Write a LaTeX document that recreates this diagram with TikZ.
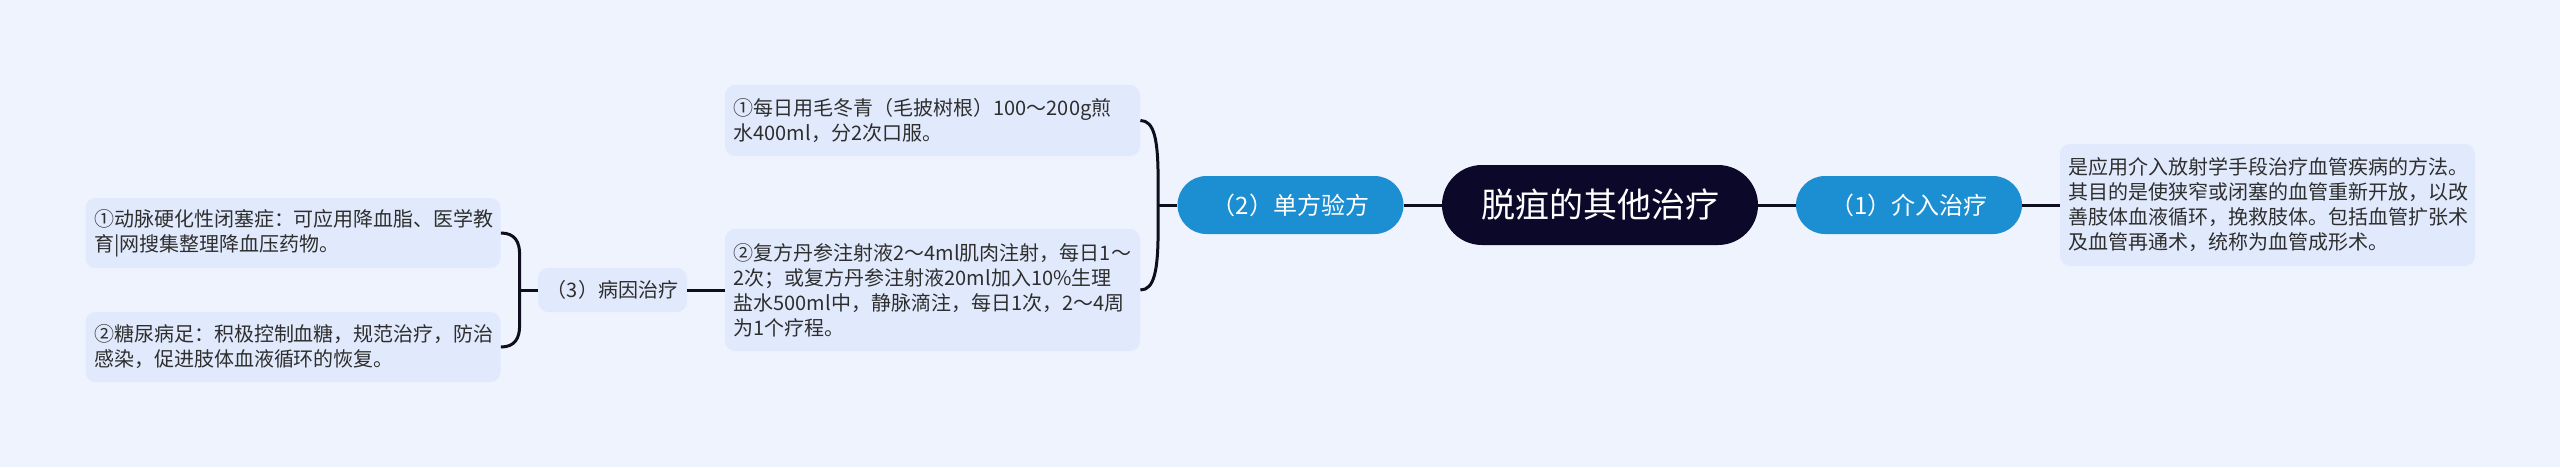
\documentclass[tikz,border=0pt]{standalone}
\usepackage{fontspec}
\setmainfont{Noto Sans CJK SC}
\usetikzlibrary{calc}
\definecolor{canvas}{HTML}{EEF3FE}
\definecolor{leafbg}{HTML}{E1EAFC}
\definecolor{rootbg}{HTML}{0B0829}
\definecolor{branchbg}{HTML}{1B8FD1}
\definecolor{wire}{HTML}{0E0E1E}
\definecolor{ink}{HTML}{2E2E2E}

\begin{document}
\begin{tikzpicture}[x=0.5pt,y=-0.5pt,
  leaf/.style={fill=leafbg,rounded corners=5pt,text=ink,align=left,
    text width=199pt,inner xsep=4.25pt,inner ysep=4pt,
    font=\fontsize{10pt}{12.5pt}\selectfont},
  branch/.style={fill=branchbg,rounded corners=14.5pt,text=white,
    minimum width=113pt,minimum height=29pt,inner sep=2pt,
    font=\fontsize{12pt}{14pt}\selectfont},
  link/.style={wire,line width=1.5pt}]
  % canvas
  \fill [canvas] (0,0) rectangle (2560,467);
  % root
  \node [fill=rootbg,text=white,rounded corners=20pt,
    minimum width=158pt,minimum height=40pt,inner sep=2pt,
    font=\fontsize{17pt}{20pt}\selectfont]
    at (1600,205) (root) {脱疽的其他治疗}
  ;
  % branches
  \node [branch] at (1909,205) (jieru) {（1）介入治疗};
  \node [branch] at (1290.5,205) (danfang) {（2）单方验方};
  \node [fill=leafbg,rounded corners=5pt,text=ink,
    minimum width=74.5pt,minimum height=22pt,inner sep=2pt,
    font=\fontsize{10pt}{12pt}\selectfont]
    at (612.5,290) (bingyin) {（3）病因治疗}
  ;
  % leaves
  \node [leaf,minimum height=61pt] at (2267.5,205) (jieruText)
    {是应用介入放射学手段治疗血管疾病的方法。\\
     其目的是使狭窄或闭塞的血管重新开放，以改\\
     善肢体血液循环，挽救肢体。包括血管扩张术\\
     及血管再通术，统称为血管成形术。};
  \node [leaf,minimum height=35.5pt] at (932.5,120.5) (danA)
    {①每日用毛冬青（毛披树根）100～200g煎\\
     水400ml，分2次口服。};
  \node [leaf,minimum height=61pt] at (932.5,290) (danB)
    {②复方丹参注射液2～4ml肌肉注射，每日1～\\
     2次；或复方丹参注射液20ml加入10\%生理\\
     盐水500ml中，静脉滴注，每日1次，2～4周\\
     为1个疗程。};
  \node [leaf,minimum height=35pt] at (293,233) (bingA)
    {①动脉硬化性闭塞症：可应用降血脂、医学教\\
     育|网搜集整理降血压药物。};
  \node [leaf,minimum height=35pt] at (293,347) (bingB)
    {②糖尿病足：积极控制血糖，规范治疗，防治\\
     感染，促进肢体血液循环的恢复。};
  % straight links
  \draw [link] (root) -- (jieru);
  \draw [link] (jieru) -- (jieruText);
  \draw [link] (root) -- (danfang);
  \draw [link] (bingyin) -- (danB);
  % bracket of (2)
  \draw [link]
    (danfang.west) -- ++(-19,0) coordinate (danfork)
  ;
  \draw [link]
    (danA.east)
    .. controls +(14,0) and +(0,-40) .. ($(danfork)+(0,-25)$)
    -- ($(danfork)+(0,25)$)
    .. controls +(0,40) and +(14,0) .. (danB.east)
  ;
  % bracket of (3)
  \draw [link]
    (bingyin.west) -- ++(-18,0) coordinate (bingfork)
  ;
  \draw [link]
    (bingA.east)
    .. controls +(14,0) and +(0,-12) .. ($(bingfork)+(0,-36)$)
    -- ($(bingfork)+(0,36)$)
    .. controls +(0,12) and +(14,0) .. (bingB.east)
  ;
\end{tikzpicture}
\end{document}
